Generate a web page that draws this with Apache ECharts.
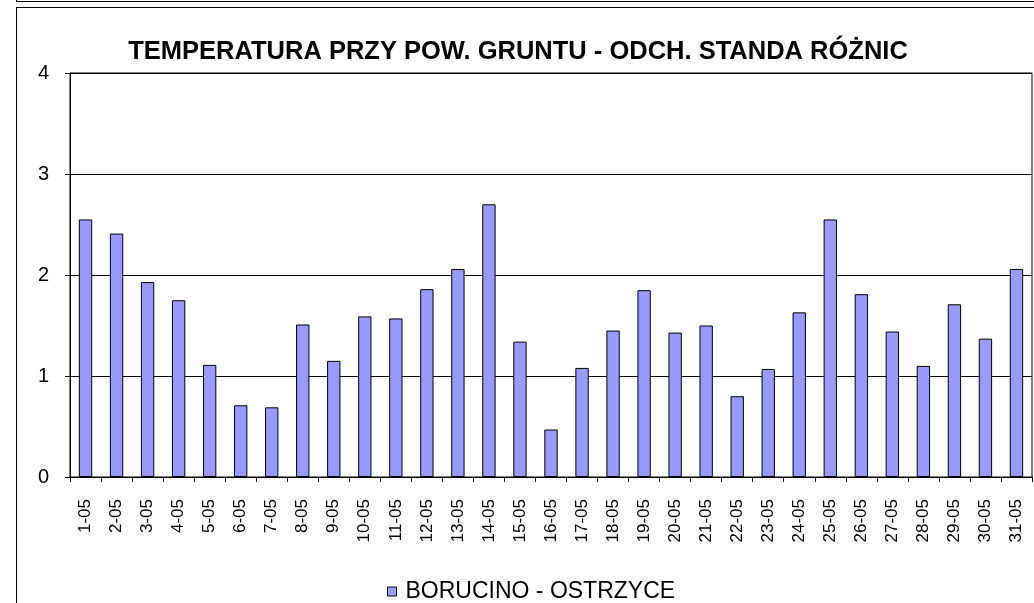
<!DOCTYPE html>
<html>
<head>
<meta charset="utf-8">
<title>Temperatura przy pow. gruntu</title>
<script src="https://cdn.jsdelivr.net/npm/echarts@6/dist/echarts.min.js"></script>
<style>
  html, body { margin: 0; padding: 0; background: #fff; }
  #chart { width: 1034px; height: 603px; }
</style>
</head>
<body>
<div id="chart"></div>
<script>
/* =========================================
   DATA
   ========================================= */
const chartTitle = "TEMPERATURA PRZY POW. GRUNTU - ODCH. STANDA RÓŻNIC";
const seriesName = "BORUCINO - OSTRZYCE";

const days = [
  "1-05", "2-05", "3-05", "4-05", "5-05", "6-05", "7-05", "8-05",
  "9-05", "10-05", "11-05", "12-05", "13-05", "14-05", "15-05", "16-05",
  "17-05", "18-05", "19-05", "20-05", "21-05", "22-05", "23-05", "24-05",
  "25-05", "26-05", "27-05", "28-05", "29-05", "30-05", "31-05"
];

const stdDiff = [
  2.55, 2.41, 1.93, 1.75, 1.11, 0.71, 0.69, 1.51,
  1.15, 1.59, 1.57, 1.86, 2.06, 2.70, 1.34, 0.47,
  1.08, 1.45, 1.85, 1.43, 1.50, 0.80, 1.07, 1.63,
  2.55, 1.81, 1.44, 1.10, 1.71, 1.37, 2.06
];

const yTicks = [0, 1, 2, 3, 4];

/* =========================================
   CHART
   ========================================= */
function initChart() {
  const dom = document.getElementById("chart");
  const chart = echarts.init(dom, null, { renderer: "canvas" });
  const font = "Liberation Sans, Arial, sans-serif";

  const option = {
    backgroundColor: "#fff",
    animation: false,
    title: {
      text: chartTitle,
      left: 513,
      top: 34,
      textAlign: "center",
      textStyle: { fontFamily: font, fontSize: 25.5, fontWeight: "bold", color: "#000" }
    },
    legend: {
      top: 575,
      left: 382,
      icon: "rect",
      itemWidth: 9,
      itemHeight: 9,
      itemGap: 10,
      textStyle: { fontFamily: font, fontSize: 23, color: "#000", padding: [0, 0, 0, 4] },
      itemStyle: { borderColor: "#000", borderWidth: 1 },
      data: [seriesName]
    },
    grid: {
      left: 70,
      right: 2,
      top: 73,
      bottom: 126,
      show: true,
      borderColor: "#000",
      borderWidth: 1
    },
    xAxis: {
      type: "category",
      data: days,
      axisLine: { lineStyle: { color: "#000", width: 1 } },
      axisTick: { show: true, length: 5, lineStyle: { color: "#000" } },
      axisLabel: {
        rotate: 90,
        align: "right",
        verticalAlign: "middle",
        margin: 22,
        interval: 0,
        color: "#000",
        fontFamily: font,
        fontSize: 17
      }
    },
    yAxis: {
      type: "value",
      min: yTicks[0],
      max: yTicks[yTicks.length - 1],
      interval: 1,
      axisLine: { show: true, lineStyle: { color: "#000", width: 1 } },
      axisTick: { show: true, length: 5, lineStyle: { color: "#000" } },
      splitLine: { lineStyle: { color: "#000", width: 1 } },
      axisLabel: { margin: 21, color: "#000", fontFamily: font, fontSize: 20 }
    },
    series: [
      {
        name: seriesName,
        type: "bar",
        data: stdDiff,
        barWidth: "43%",
        itemStyle: { color: "#9999ff", borderColor: "#000", borderWidth: 1 }
      }
    ],
    graphic: [
      // outer frame like the spreadsheet chart box
      { type: "line", shape: { x1: 16, y1: 1.5, x2: 1034, y2: 1.5 }, style: { stroke: "#000", lineWidth: 1 } },
      { type: "line", shape: { x1: 16.5, y1: 0, x2: 16.5, y2: 2 }, style: { stroke: "#000", lineWidth: 1 } },
      { type: "line", shape: { x1: 16, y1: 7.5, x2: 1034, y2: 7.5 }, style: { stroke: "#000", lineWidth: 1 } },
      { type: "line", shape: { x1: 16.5, y1: 7, x2: 16.5, y2: 603 }, style: { stroke: "#000", lineWidth: 1 } }
    ]
  };

  chart.setOption(option);
}

document.addEventListener("DOMContentLoaded", initChart);
</script>
</body>
</html>
